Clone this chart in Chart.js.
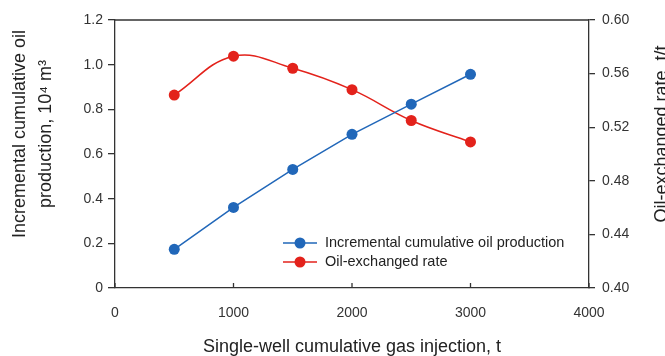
<!DOCTYPE html>
<html>
<head>
<meta charset="utf-8">
<script src="https://cdn.jsdelivr.net/npm/chart.js@4"></script>
<style>
  html, body { margin: 0; padding: 0; background: #fff; }
  #wrap { width: 665px; height: 356px; }
</style>
</head>
<body>
<div id="wrap"><canvas id="gasChart"></canvas></div>
<script>
const gasInjection = [500, 1000, 1500, 2000, 2500, 3000];
const cumulativeOil = [0.173, 0.361, 0.531, 0.688, 0.823, 0.957];
const exchangeRate = [0.544, 0.573, 0.564, 0.548, 0.525, 0.509];
const xTicks = [0, 1000, 2000, 3000, 4000];
const leftTicks = [0, 0.2, 0.4, 0.6, 0.8, 1.0, 1.2];
const rightTicks = [0.40, 0.44, 0.48, 0.52, 0.56, 0.60];
const leftTitle = ['Incremental cumulative oil', 'production, 10\u2074 m\u00b3'];
const rightTitle = 'Oil-exchanged rate, t/t';

const FONT = "'Liberation Sans', Arial, sans-serif";
const AXIS = '#333';
const BLUE = '#2167b9';
const RED = '#e3221b';

// frame top, inward x ticks, and both y titles (read bottom-to-top)
const framePlugin = {
    id: 'frame',
    afterDraw(chart) {
        const ctx = chart.ctx;
        const a = chart.chartArea;
        const xs = chart.scales.x;
        ctx.save();
        ctx.strokeStyle = AXIS;
        ctx.lineWidth = 1.3;
        ctx.beginPath();
        ctx.moveTo(a.left, a.top);
        ctx.lineTo(a.right, a.top);
        xTicks.forEach(v => {
            const px = xs.getPixelForValue(v);
            ctx.moveTo(px, a.bottom);
            ctx.lineTo(px, a.bottom - 5);
        });
        ctx.stroke();

        ctx.fillStyle = '#222';
        ctx.font = '18px ' + FONT;
        ctx.textAlign = 'center';
        ctx.textBaseline = 'middle';
        const midY = 134;
        [[20, leftTitle[0]], [46, leftTitle[1]], [662, rightTitle]].forEach(([x, t]) => {
            ctx.save();
            ctx.translate(x, midY);
            ctx.rotate(-Math.PI / 2);
            ctx.fillText(t, 0, 0);
            ctx.restore();
        });
        ctx.restore();
    }
};

new Chart(document.getElementById('gasChart'), {
    type: 'line',
    data: {
        datasets: [
            {
                label: 'Incremental cumulative oil production',
                data: gasInjection.map((x, i) => ({ x: x, y: cumulativeOil[i] })),
                yAxisID: 'y',
                borderColor: BLUE,
                backgroundColor: BLUE,
                borderWidth: 1.5,
                pointRadius: 5.5,
                pointBorderWidth: 0,
                tension: 0
            },
            {
                label: 'Oil-exchanged rate',
                data: gasInjection.map((x, i) => ({ x: x, y: exchangeRate[i] })),
                yAxisID: 'y1',
                borderColor: RED,
                backgroundColor: RED,
                borderWidth: 1.5,
                pointRadius: 5.5,
                pointBorderWidth: 0,
                tension: 0.4
            }
        ]
    },
    options: {
        responsive: true,
        maintainAspectRatio: false,
        animation: false,
        layout: { padding: { top: 20, left: 0, right: 0, bottom: 0 } },
        plugins: {
            legend: { display: false },
            tooltip: { enabled: false }
        },
        scales: {
            x: {
                type: 'linear',
                min: 0,
                max: 4000,
                afterBuildTicks: s => { s.ticks = xTicks.map(v => ({ value: v })); },
                afterFit: s => { s.height = 68; },
                grid: { display: true, drawOnChartArea: false, drawTicks: false },
                border: { color: AXIS, width: 1.3 },
                ticks: {
                    color: '#333',
                    padding: 17,
                    font: { family: FONT, size: 14 },
                    maxRotation: 0,
                    callback: v => String(v)
                },
                title: {
                    display: true,
                    text: 'Single-well cumulative gas injection, t',
                    color: '#222',
                    font: { family: FONT, size: 18, lineHeight: 1.0 },
                    padding: { top: 4, bottom: 0 }
                }
            },
            y: {
                position: 'left',
                min: 0,
                max: 1.2,
                afterBuildTicks: s => { s.ticks = leftTicks.map(v => ({ value: v })); },
                afterFit: s => { s.width = 115; },
                grid: { drawOnChartArea: false, tickLength: 7, color: AXIS, lineWidth: 1.3 },
                border: { color: AXIS, width: 1.3 },
                ticks: {
                    color: '#333',
                    padding: 5,
                    font: { family: FONT, size: 14 },
                    callback: v => v === 0 ? '0' : v.toFixed(1)
                }
            },
            y1: {
                position: 'right',
                min: 0.40,
                max: 0.60,
                afterBuildTicks: s => { s.ticks = rightTicks.map(v => ({ value: v })); },
                afterFit: s => { s.width = 76; },
                grid: { drawOnChartArea: false, tickLength: 6, color: AXIS, lineWidth: 1.3 },
                border: { color: AXIS, width: 1.3 },
                ticks: {
                    color: '#333',
                    padding: 7,
                    font: { family: FONT, size: 14 },
                    callback: v => v.toFixed(2)
                }
            }
        }
    },
    plugins: [framePlugin, {
        // legend box in the lower right of the plot area
        id: 'insideLegend',
        afterDraw(chart) {
            const ctx = chart.ctx;
            const a = chart.chartArea;
            const rows = chart.data.datasets;
            ctx.save();
            ctx.font = '14.5px ' + FONT;
            ctx.textBaseline = 'middle';
            rows.forEach((ds, i) => {
                const y = a.bottom - 45 + i * 19;
                const x0 = a.left + 168;
                ctx.strokeStyle = ds.borderColor;
                ctx.lineWidth = 1.5;
                ctx.beginPath();
                ctx.moveTo(x0, y);
                ctx.lineTo(x0 + 34, y);
                ctx.stroke();
                ctx.fillStyle = ds.backgroundColor;
                ctx.beginPath();
                ctx.arc(x0 + 17, y, 5.5, 0, Math.PI * 2);
                ctx.fill();
                ctx.fillStyle = '#222';
                ctx.fillText(ds.label, x0 + 42, y);
            });
            ctx.restore();
        }
    }]
});
</script>
</body>
</html>
